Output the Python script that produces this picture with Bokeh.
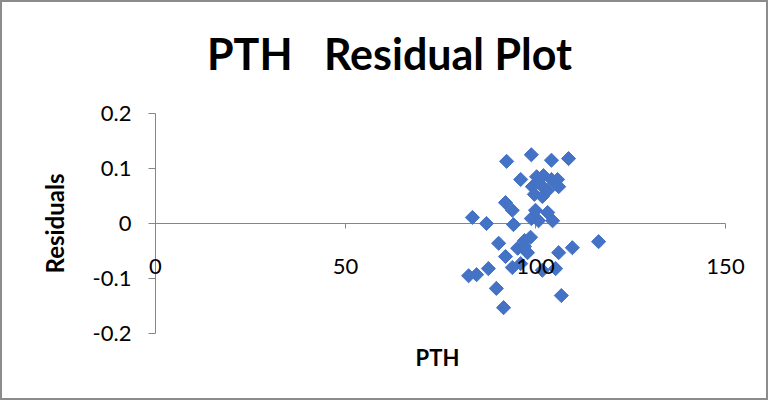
import math
from bokeh.plotting import figure
from bokeh.models import Range1d, Label
from bokeh.embed import file_html
from bokeh.resources import INLINE

# ---- data ----
pth = [92.4, 98.9, 104.2, 108.7, 96.1, 100.3, 102.1, 104.2, 105.8, 106.1,
       99.2, 101.3, 99.7, 101.8, 103.2, 92.1, 93.9, 83.4, 87.1, 94.2,
       98.9, 100.8, 103.2, 104.5, 100.0, 98.7, 90.3, 95.3, 97.1, 97.9,
       92.1, 93.9, 96.1, 101.8, 105.3, 106.1, 109.7, 116.6, 87.6, 82.4,
       84.5, 89.7, 91.6, 106.8, 97.1]
residuals = [0.113, 0.125, 0.115, 0.118, 0.080, 0.085, 0.087, 0.080, 0.080, 0.067,
             0.067, 0.071, 0.053, 0.049, 0.060, 0.038, 0.024, 0.011, 0.000, -0.002,
             0.009, 0.005, 0.020, 0.005, 0.024, -0.025, -0.036, -0.045, -0.042, -0.053,
             -0.060, -0.080, -0.073, -0.085, -0.082, -0.053, -0.044, -0.033, -0.082, -0.095,
             -0.093, -0.118, -0.153, -0.131, -0.031]

x_ticks = [0, 50, 100, 150]
x_tick_labels = ["0", "50", "100", "150"]
y_ticks = [-0.2, -0.1, 0, 0.1, 0.2]
y_tick_labels = ["-0.2", "-0.1", "0", "0.1", "0.2"]

TITLE = "PTH \u00a0 Residual Plot"
X_TITLE = "PTH"
Y_TITLE = "Residuals"

FONT = "Lato"
AXIS_GRAY = "#868686"
MARKER = "#4472C4"

# ---- layout: the plotting frame covers the whole canvas so no text is clipped ----
W, H = 768, 400
X0_PX, X_SCALE = 153, 3.8     # screen px of x=0, px per PTH unit
Y0_PX, Y_SCALE = 221, 550     # screen px (from top) of residual 0, px per residual unit

p = figure(width=W, height=H, output_backend="svg", toolbar_location=None,
           title_location=None,
           x_range=Range1d(-X0_PX / X_SCALE, (W - X0_PX) / X_SCALE),
           y_range=Range1d(-(H - Y0_PX) / Y_SCALE, Y0_PX / Y_SCALE),
           x_axis_type=None, y_axis_type=None,
           min_border_left=0, min_border_right=0, min_border_top=0, min_border_bottom=0)
p.outline_line_color = None
p.background_fill_color = "white"
p.border_fill_color = "white"
p.styles = {"border": "2px solid #8c8c8c"}

x_mid = (x_ticks[0] + x_ticks[-1]) / 2

# title
p.add_layout(Label(x=x_mid, y=y_ticks[-1], text=TITLE, text_align="center",
                   text_baseline="middle", x_offset=-51, y_offset=60,
                   text_font=FONT, text_font_style="bold", text_font_size="43px",
                   text_color="black"))

# vertical axis (at x = 0)
p.segment(x0=[x_ticks[0]], y0=[y_ticks[0]], x1=[x_ticks[0]], y1=[y_ticks[-1]],
          line_color=AXIS_GRAY, line_width=1)
p.ray(x=[x_ticks[0]] * len(y_ticks), y=y_ticks, length=7, length_units="screen",
      angle=math.pi, line_color=AXIS_GRAY, line_width=1)
for ty, tl in zip(y_ticks, y_tick_labels):
    p.add_layout(Label(x=x_ticks[0], y=ty, text=tl, text_align="right",
                       text_baseline="middle", x_offset=-24,
                       text_font=FONT, text_font_size="22px", text_color="black"))
p.add_layout(Label(x=x_ticks[0], y=0, text=Y_TITLE, angle=math.pi / 2,
                   text_align="center", text_baseline="middle", x_offset=-101,
                   text_font=FONT, text_font_style="bold", text_font_size="24px",
                   text_color="black"))

# horizontal axis (crossing at residual = 0)
p.segment(x0=[x_ticks[0]], y0=[0], x1=[x_ticks[-1]], y1=[0], line_color=AXIS_GRAY, line_width=1)
p.ray(x=x_ticks, y=[0] * len(x_ticks), length=5, length_units="screen",
      angle=-math.pi / 2, line_color=AXIS_GRAY, line_width=1)
for tx, tl in zip(x_ticks, x_tick_labels):
    p.add_layout(Label(x=tx, y=0, text=tl, text_align="center", text_baseline="middle",
                       y_offset=-43, text_font=FONT, text_font_size="22px",
                       text_color="black"))
p.add_layout(Label(x=x_mid, y=y_ticks[0], text=X_TITLE, text_align="center",
                   text_baseline="middle", x_offset=-3, y_offset=-24,
                   text_font=FONT, text_font_style="bold", text_font_size="22px",
                   text_color="black"))

# residual points
p.scatter(pth, residuals, marker="square", size=10, angle=math.pi / 4,
          fill_color=MARKER, line_color=MARKER)

open("out.html", "w").write(file_html(p, INLINE))
